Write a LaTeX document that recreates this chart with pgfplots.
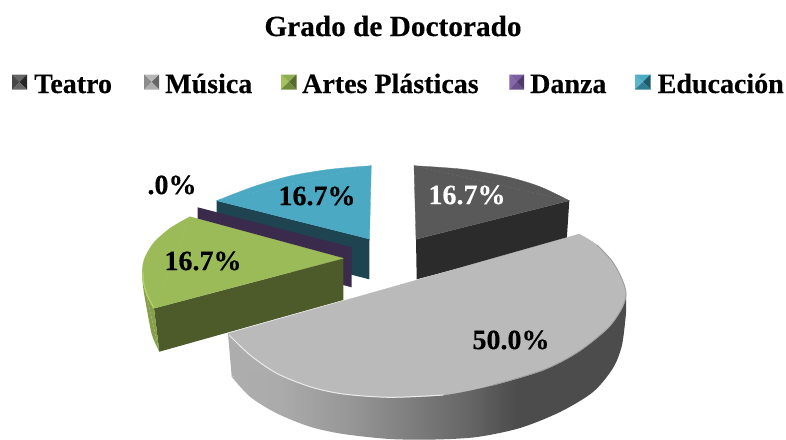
\documentclass[border=0pt]{standalone}
\usepackage{pgfplots}
\pgfplotsset{compat=1.18}
\usepackage{fontspec}
\setmainfont{Liberation Serif}[BoldFeatures={FakeBold=0.3}]
\definecolor{gtop}{HTML}{595959}\definecolor{gside}{HTML}{2B2B2B}
\definecolor{stop}{HTML}{BABABA}
\definecolor{ttop}{HTML}{4BA9C4}\definecolor{tside}{HTML}{1E4452}
\definecolor{ptop}{HTML}{3A2A4B}
\definecolor{vtop}{HTML}{9BBB59}\definecolor{vside}{HTML}{4D5B2A}\definecolor{vouter}{HTML}{86A049}\definecolor{vrim}{HTML}{B4D163}
\definecolor{a1}{HTML}{8FAE52}\definecolor{a2}{HTML}{A5C25F}\definecolor{a3}{HTML}{566B2C}\definecolor{a4}{HTML}{6F8A3A}
\definecolor{d1}{HTML}{7B5FA0}\definecolor{d2}{HTML}{8468A8}\definecolor{d3}{HTML}{4F3A6B}\definecolor{d4}{HTML}{6A4F8C}
\definecolor{e1}{HTML}{4BACC6}\definecolor{e2}{HTML}{5BB5CD}\definecolor{e3}{HTML}{1F5A6C}\definecolor{e4}{HTML}{2F7D93}
\pgfdeclarehorizontalshading{greyside}{100bp}{color(0bp)=(black!32);color(25bp)=(black!32);color(31bp)=(black!33);color(40bp)=(black!41);color(55bp)=(black!60);color(61bp)=(black!70);color(75bp)=(black!70);color(100bp)=(black!70)}
\newcommand{\mk}[6]{%
 \addplot[fill=#3,draw=none] coordinates {(#1,74.5) (#2,74.5) ({(#1+#2)/2},82)} --cycle;
 \addplot[fill=#4,draw=none] coordinates {(#1,74.5) (#1,89.5) ({(#1+#2)/2},82)} --cycle;
 \addplot[fill=#5,draw=none] coordinates {(#2,74.5) (#2,89.5) ({(#1+#2)/2},82)} --cycle;
 \addplot[fill=#6,draw=none] coordinates {(#1,89.5) (#2,89.5) ({(#1+#2)/2},82)} --cycle;
}
\newcommand{\lbl}{\fontsize{28}{30}\selectfont\bfseries}
\begin{document}
\begin{tikzpicture}
\useasboundingbox (0,0) rectangle (786pt,439pt);
\begin{axis}[at={(0,0)},anchor=south west,width=786pt,height=439pt,scale only axis,hide axis,
  xmin=0,xmax=786,ymin=0,ymax=439,y dir=reverse,clip=false,
  every axis plot/.append style={line join=round}]
% Teatro
\addplot[fill=gside,draw=none] coordinates {(416,239.3) (569.3,200.7) (566.7,240) (416.7,279.3)} --cycle;
\addplot[fill=gtop,draw=gtop,line width=.3pt] coordinates {(414,165.7) (416,239.3) (569.3,200.7)} --cycle;
\addplot[smooth,fill=gtop,draw=gtop,line width=.3pt] coordinates {(414,165.7) (463.3,169.3) (506.7,176.7) (540,186.7) (569.3,200.7)} --cycle;
% Educacion
\addplot[fill=tside,draw=none] coordinates {(216.7,200.7) (369.5,239) (369.3,279.3) (216.7,240)} --cycle;
\addplot[fill=ttop,draw=ttop,line width=.3pt] coordinates {(371.3,165.7) (369.5,239) (216.7,200.7)} --cycle;
\addplot[smooth,fill=ttop,draw=ttop,line width=.3pt] coordinates {(371.3,165.7) (330,169.3) (290,176) (253.3,186.7) (216.7,200.7)} --cycle;
% Danza
\addplot[fill=ptop,draw=none] coordinates {(197.7,207.3) (351.7,247.3) (351.7,287.3) (197.7,247)} --cycle;
% Artes plasticas
\addplot[fill=vside,draw=none] coordinates {(154,308.3) (343.3,258.3) (343.3,300) (159.3,351.7)} --cycle;
\addplot[smooth,fill=vouter,draw=none] coordinates {(142.3,276.7) (143.5,290) (147,310) (152,335) (159.3,351.7)} --cycle;
\addplot[fill=vouter,draw=none] coordinates {(142.3,276.7) (159.3,351.7) (154,308.3)} --cycle;
\addplot[fill=vtop,draw=vtop,line width=.3pt] coordinates {(190,216.7) (343.3,258.3) (154,308.3)} --cycle;
\addplot[smooth,fill=vtop,draw=vtop,line width=.3pt] coordinates {(190,216.7) (170,228.3) (153.3,243.3) (144,260) (142.3,276.7) (146.7,293.3) (154,308.3)} --cycle;
\addplot[smooth,draw=vrim,line width=1.4pt] coordinates {(143,272) (143.5,282) (146.7,294) (153.5,307.5)};
% Musica: side
\addplot[fill=black!32,draw=none] coordinates {(228,333.5) (231.7,376.7) (278,372)} --cycle;
\addplot[smooth,shade,shading=greyside,draw=none] coordinates {(231.7,376.7) (250,396.7) (276.7,413.3) (310,426.7) (343.3,434) (390,439) (435,439.5) (477,437) (520,428) (560,412) (593,392) (613,368) (622,345) (626,313)} --cycle;
\addplot[fill=black!70,draw=none] coordinates {(626,293) (626,313) (590,335) (600,300)} --cycle;
% Musica: top
\addplot[smooth,fill=stop,draw=stop,line width=.3pt] coordinates {(228,333.5) (250,355) (276.7,373.3) (310,386.7) (343.3,394) (390,397.3) (443.3,395) (493.3,385) (543.3,370) (578,352) (608,328) (622,308) (626,293.3) (621.5,278) (612,261) (597,245) (579.3,234)} --cycle;
\addplot[smooth,draw=black!8,line width=1pt] coordinates {(229,335) (250,355) (276.7,373.3) (310,386.7) (343.3,394) (390,397.3) (443.3,395)};
\addplot[smooth,draw=black!38,line width=.9pt] coordinates {(493.3,385) (543.3,370) (578,352) (608,328) (622,308) (626,293.3) (621.5,278) (612,261) (597,245)};
% Legend keys
\mk{12}{27}{black!60}{black!72}{black!85}{black!60}
\mk{144}{159}{black!28}{black!45}{black!60}{black!32}
\mk{281}{296.5}{a1}{a2}{a3}{a4}
\mk{509.3}{524}{d1}{d2}{d3}{d4}
\mk{635}{650.5}{e1}{e2}{e3}{e4}
% Text
\node[anchor=base,inner sep=0,font=\fontsize{29.3}{31}\selectfont\bfseries] at (axis cs:393,36) {Grado de Doctorado};
\node[anchor=base west,inner sep=0,font=\lbl] at (axis cs:34,93) {Teatro};
\node[anchor=base west,inner sep=0,font=\lbl] at (axis cs:165,93) {Música};
\node[anchor=base west,inner sep=0,font=\lbl] at (axis cs:302,93) {Artes Plásticas};
\node[anchor=base west,inner sep=0,font=\lbl] at (axis cs:530,93) {Danza};
\node[anchor=base west,inner sep=0,font=\lbl] at (axis cs:657.5,93) {Educación};
\node[anchor=center,inner sep=0,font=\lbl,text=white] at (axis cs:467,195) {16.7\%};
\node[anchor=center,inner sep=0,font=\lbl] at (axis cs:317,196) {16.7\%};
\node[anchor=center,inner sep=0,font=\lbl] at (axis cs:203,261) {16.7\%};
\node[anchor=center,inner sep=0,font=\lbl] at (axis cs:511,340) {50.0\%};
\node[anchor=center,inner sep=0,font=\lbl] at (axis cs:172,185) {.0\%};
\end{axis}
\end{tikzpicture}
\end{document}
